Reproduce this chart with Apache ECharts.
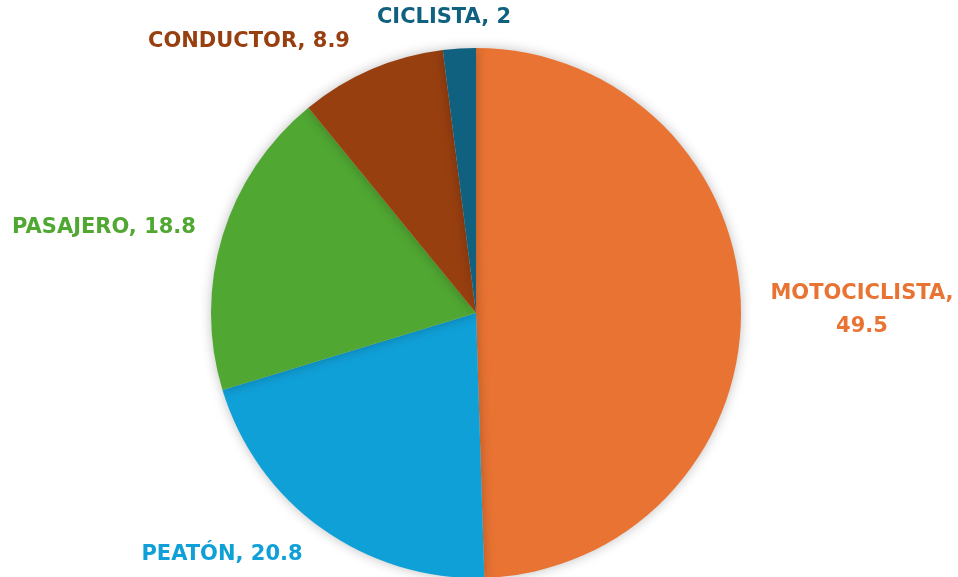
<!DOCTYPE html>
<html><head><meta charset="utf-8">
<script src="https://cdn.jsdelivr.net/npm/echarts@6/dist/echarts.min.js"></script>
<style>html,body{margin:0;padding:0;background:#fff}#c{width:958px;height:577px}</style>
</head><body><div id="c"></div>
<script>
const categories = ['MOTOCICLISTA', 'PEATÓN', 'PASAJERO', 'CONDUCTOR', 'CICLISTA'];
const values = [49.5, 20.8, 18.8, 8.9, 2];
const colors = ['#E87333', '#10A0D8', '#50A732', '#983F10', '#10617F'];

// label anchor points (layout only)
const labelSpots = [[862, 310], [222, 555], [104, 228], [249, 42], [444, 18]];

const chart = echarts.init(document.getElementById('c'));
chart.setOption({
  animation: false,
  series: [{
    type: 'pie',
    center: [476, 313],
    radius: [0, 265],
    startAngle: 90,
    clockwise: true,
    avoidLabelOverlap: false,
    itemStyle: { shadowBlur: 12, shadowColor: 'rgba(0,0,0,0.25)' },
    label: {
      show: true,
      position: 'outside',
      fontFamily: '"DejaVu Sans", sans-serif',
      fontWeight: 'bold',
      fontSize: 21,
      lineHeight: 33,
      formatter: p => p.name === 'MOTOCICLISTA' ? p.name + ',\n' + p.value : p.name + ', ' + p.value,
      align: 'center'
    },
    labelLine: { show: false },
    labelLayout: p => ({
      x: labelSpots[p.dataIndex][0],
      y: labelSpots[p.dataIndex][1],
      align: 'center',
      verticalAlign: 'middle',
      hideOverlap: false
    }),
    data: categories.map((c, i) => ({
      name: c, value: values[i],
      itemStyle: { color: colors[i] },
      label: { color: colors[i] }
    }))
  }]
});
</script></body></html>
